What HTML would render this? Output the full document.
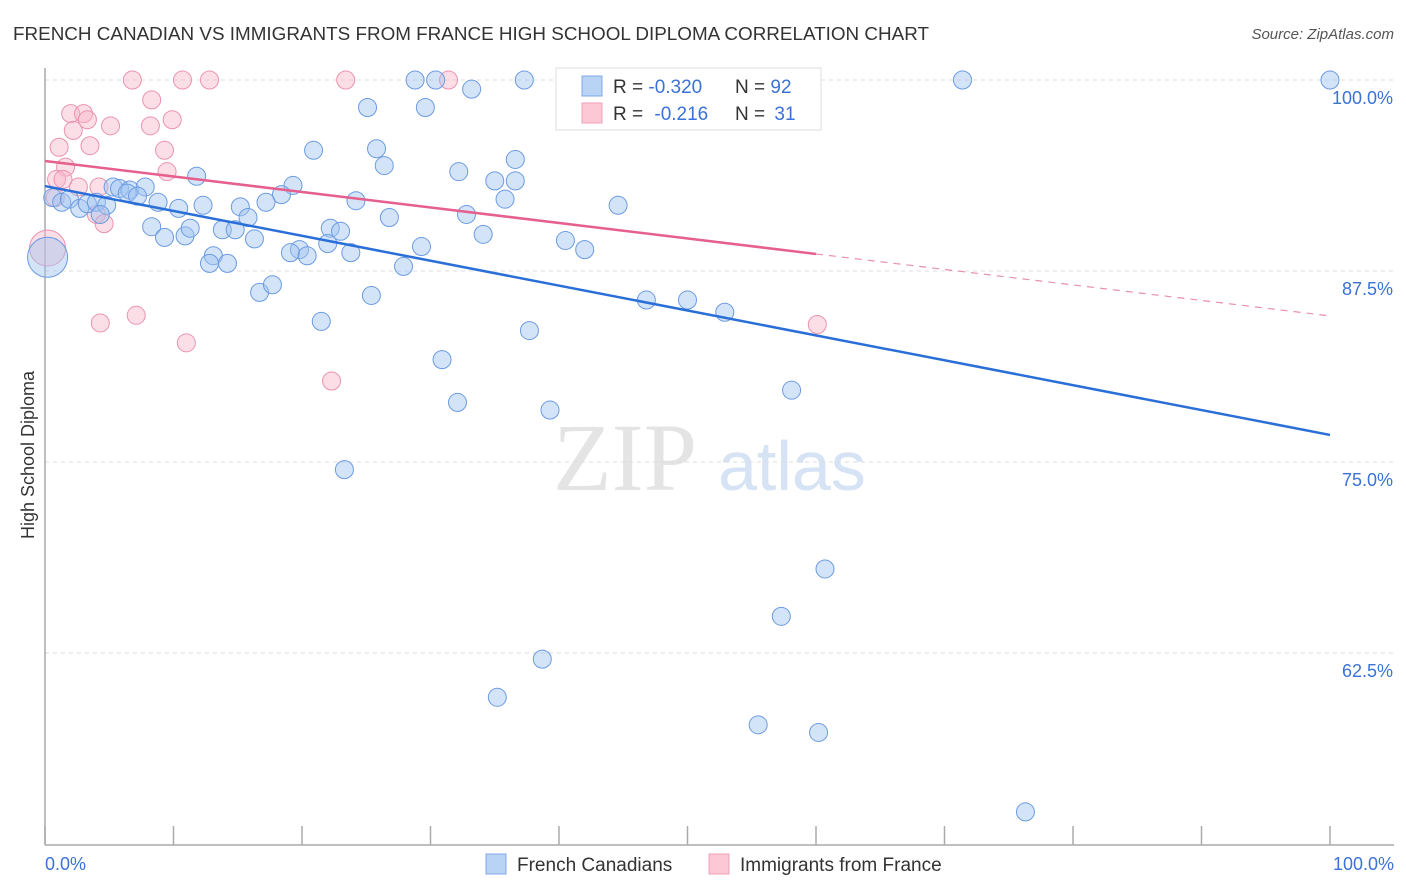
<!DOCTYPE html>
<html><head><meta charset="utf-8"><style>
body{margin:0;background:#fff;font-family:"Liberation Sans",sans-serif;}
svg{display:block}
</style></head><body>
<svg id="chart" width="1406" height="892">
<text x="13" y="40" font-size="18.5" fill="#333" textLength="916" lengthAdjust="spacingAndGlyphs">FRENCH CANADIAN VS IMMIGRANTS FROM FRANCE HIGH SCHOOL DIPLOMA CORRELATION CHART</text>
<text x="1394" y="39" font-size="15" fill="#555" font-style="italic" text-anchor="end">Source: ZipAtlas.com</text>
<text transform="translate(34,455) rotate(-90)" font-size="18" fill="#333" text-anchor="middle">High School Diploma</text>
<g>
<text x="553" y="490" font-size="96" font-family="Liberation Serif,serif" fill="#e4e4e4">ZIP</text>
<text x="718" y="490" font-size="70" fill="#d6e3f5">atlas</text>
</g>
<g id="grid"></g><g id="axes"></g><g id="marks"></g>
<g>
<rect x="556" y="68" width="265" height="62" fill="#fff" stroke="#ddd"/>
<rect x="582" y="76" width="20" height="20" fill="#b9d3f5" stroke="#7ea9e8"/>
<rect x="582" y="103" width="20" height="20" fill="#fcc8d6" stroke="#efa0b8"/>
<text x="613" y="93" font-size="19" fill="#333">R = <tspan fill="#3a72d8">-0.320</tspan></text>
<text x="735" y="93" font-size="19" fill="#333">N = <tspan fill="#3a72d8">92</tspan></text>
<text x="613" y="120" font-size="19" fill="#333">R = <tspan fill="#3a72d8" dx="6">-0.216</tspan></text>
<text x="735" y="120" font-size="19" fill="#333">N = <tspan fill="#3a72d8" dx="4">31</tspan></text>
</g>
<g>
<rect x="486" y="854" width="20" height="20" fill="#b9d3f5" stroke="#7ea9e8"/>
<text x="517" y="871" font-size="19" fill="#333">French Canadians</text>
<rect x="709" y="854" width="20" height="20" fill="#fcc8d6" stroke="#efa0b8"/>
<text x="740" y="871" font-size="19" fill="#333">Immigrants from France</text>
</g>
</svg>
<script>
const blueX=[28.8,30.4,37.3,48.0,71.4,100,33.2,25.1,29.6,20.9,25.8,26.4,36.6,32.2,35.0,36.6,11.8,19.3,18.4,17.2,24.2,35.8,44.6,32.8,26.8,5.3,5.8,6.6,7.8,6.4,7.2,0.6,1.3,1.9,2.7,3.3,4.0,4.8,4.3,8.8,10.4,12.3,15.2,15.8,8.3,9.3,10.9,11.3,13.8,14.8,16.3,22.2,23.0,22.0,19.8,19.1,20.4,23.8,29.3,34.1,40.5,42.0,13.1,12.8,14.2,27.9,16.7,17.7,25.4,21.5,37.7,46.8,50.0,52.9,30.9,58.1,32.1,39.3,23.3,60.7,57.3,38.7,35.2,55.5,60.2,76.3,0.2];
const blueY=[100,100,100,100,100,100,99.4,98.2,98.2,95.4,95.5,94.4,94.8,94.0,93.4,93.4,93.7,93.1,92.5,92.0,92.1,92.2,91.8,91.2,91.0,93.0,92.9,92.8,93.0,92.6,92.4,92.3,92.0,92.2,91.6,91.9,92.0,91.8,91.2,92.0,91.6,91.8,91.7,91.0,90.4,89.7,89.8,90.3,90.2,90.2,89.6,90.3,90.1,89.3,88.9,88.7,88.5,88.7,89.1,89.9,89.5,88.9,88.5,88.0,88.0,87.8,86.1,86.6,85.9,84.2,83.6,85.6,85.6,84.8,81.7,79.7,78.9,78.4,74.5,68.0,64.9,62.1,59.6,57.8,57.3,52.1,88.4];
const pinkX=[6.8,10.7,12.8,23.4,31.4,8.3,2.0,3.0,3.3,5.1,8.2,9.9,2.2,3.5,1.1,9.3,1.6,9.5,0.9,4.2,2.6,1.4,0.8,4.0,4.6,4.3,7.1,11.0,22.3,60.1,0.2];
const pinkY=[100,100,100,100,100,98.7,97.8,97.8,97.4,97.0,97.0,97.4,96.7,95.7,95.6,95.4,94.3,94.0,93.5,93.0,93.0,93.5,92.3,91.2,90.6,84.1,84.6,82.8,80.3,84.0,89.0];
const blueTrend=[93.06,76.77];
const pinkTrend=[94.70,84.56];
const pinkSolidEnd=60;
const yTicks=[100,87.5,75,62.5];
const xTickCount=10;

const NS="http://www.w3.org/2000/svg";
const xs=v=>45+v*12.85;
const ys=v=>80+(100-v)*15.28;
function mk(tag,attrs,parent){const e=document.createElementNS(NS,tag);for(const k in attrs)e.setAttribute(k,attrs[k]);document.getElementById(parent).appendChild(e);return e;}

yTicks.forEach(t=>{
  const l=mk('line',{x1:45,x2:1394,y1:ys(t),y2:ys(t),stroke:'#ddd','stroke-dasharray':'4,4'},'grid');
  
  
  const tx=mk('text',{x:1393,y:ys(t)+24,'font-size':18,fill:'#3a72d8','text-anchor':'end'},'grid');
  tx.textContent=(t===100?'100.0':t.toFixed(1))+'%';
  
  
});
const ya=mk('line',{x1:45,x2:45,y1:68,y2:845,stroke:'#aaa','stroke-width':1.5},'axes');


const xa=mk('line',{x1:45,x2:1394,y1:845,y2:845,stroke:'#aaa','stroke-width':1.5},'axes');


for(let i=0;i<=xTickCount;i++){
  const x=xs(i*100/xTickCount);
  const t=mk('line',{x1:x,x2:x,y1:826,y2:845,stroke:'#aaa','stroke-width':1.5},'axes');
  
  
}
const xl0=mk('text',{x:45,y:870,'font-size':18,fill:'#3a72d8'},'axes');xl0.textContent='0.0%';


const xl1=mk('text',{x:1394,y:870,'font-size':18,fill:'#3a72d8','text-anchor':'end'},'axes');xl1.textContent='100.0%';



pinkX.forEach((v,i)=>{
  const big=i===pinkX.length-1;
  const c=mk('circle',{cx:xs(v),cy:ys(pinkY[i]),r:big?18:9,fill:'rgba(248,182,202,0.45)',stroke:'#eb93ae','stroke-width':1},'marks');
  
  
});
blueX.forEach((v,i)=>{
  const big=i===blueX.length-1;
  const c=mk('circle',{cx:xs(v),cy:ys(blueY[i]),r:big?20:9,fill:'rgba(160,195,240,0.45)',stroke:'#6b9be3','stroke-width':1},'marks');
  
  
});
const bt=mk('line',{x1:xs(0),y1:ys(blueTrend[0]),x2:xs(100),y2:ys(blueTrend[1]),stroke:'#2a6fd8','stroke-width':2.5},'marks');


const pMid=pinkTrend[0]+(pinkTrend[1]-pinkTrend[0])*pinkSolidEnd/100;
const pt=mk('line',{x1:xs(0),y1:ys(pinkTrend[0]),x2:xs(pinkSolidEnd),y2:ys(pMid),stroke:'#e5608c','stroke-width':2.5},'marks');


const pd=mk('line',{x1:xs(pinkSolidEnd),y1:ys(pMid),x2:xs(100),y2:ys(pinkTrend[1]),stroke:'#e890ac','stroke-width':1.2,'stroke-dasharray':'7,6'},'marks');


</script>
</body></html>
